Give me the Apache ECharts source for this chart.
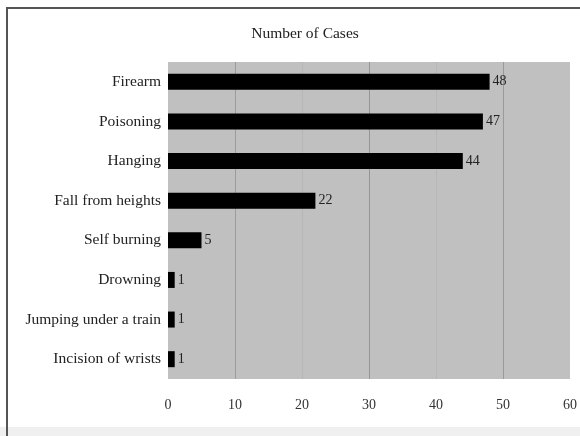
<!DOCTYPE html>
<html>
<head>
<meta charset="utf-8">
<script src="https://cdn.jsdelivr.net/npm/echarts@6/dist/echarts.min.js"></script>
<style>
html,body{margin:0;padding:0;background:#fff;}
#chart{width:580px;height:436px;}
</style>
</head>
<body>
<div id="chart"></div>
<script>
const titleText = 'Number of Cases';
const categories = ['Firearm', 'Poisoning', 'Hanging', 'Fall from heights', 'Self burning', 'Drowning', 'Jumping under a train', 'Incision of wrists'];
const cases = [48, 47, 44, 22, 5, 1, 1, 1];
const xTicks = [0, 10, 20, 30, 40, 50, 60];

const serif = 'Liberation Serif';
const chart = echarts.init(document.getElementById('chart'));
chart.setOption({
  animation: false,
  backgroundColor: '#ffffff',
  title: {
    text: titleText,
    left: 300,
    top: 21,
    textAlign: 'center',
    textStyle: { fontFamily: serif, fontSize: 15.5, fontWeight: 'normal', color: '#222' }
  },
  grid: {
    left: 168, right: 10, top: 62, bottom: 57,
    show: true, backgroundColor: '#c0c0c0', borderWidth: 0
  },
  xAxis: {
    type: 'value',
    min: xTicks[0],
    max: xTicks[xTicks.length - 1],
    interval: 10,
    axisLine: { show: false },
    axisTick: { show: false },
    axisLabel: { fontFamily: serif, fontSize: 14, color: '#333', margin: 19 },
    splitLine: {
      show: true,
      lineStyle: { width: 1, color: ['rgba(0,0,0,0)', '#9c9c9c', '#b6b6b6', '#959595', '#b6b6b6', '#9a9a9a', 'rgba(0,0,0,0)'] }
    }
  },
  yAxis: {
    type: 'category',
    data: categories,
    inverse: true,
    axisLine: { show: false },
    axisTick: { show: false },
    axisLabel: { fontFamily: serif, fontSize: 15.5, color: '#222', margin: 7 }
  },
  series: [{
    type: 'bar',
    data: cases,
    barWidth: 16,
    itemStyle: { color: '#000000' },
    label: {
      show: true,
      position: 'right',
      distance: 3,
      fontFamily: serif,
      fontSize: 14,
      color: '#222'
    }
  }],
  graphic: [
    { type: 'rect', shape: { x: 0, y: 427, width: 580, height: 9 }, style: { fill: '#f0f0f0' }, z: -1 },
    { type: 'polyline', shape: { points: [[7, 436], [7, 8], [580, 8]] }, style: { stroke: '#555', lineWidth: 2, fill: null } }
  ]
});
</script>
</body>
</html>
